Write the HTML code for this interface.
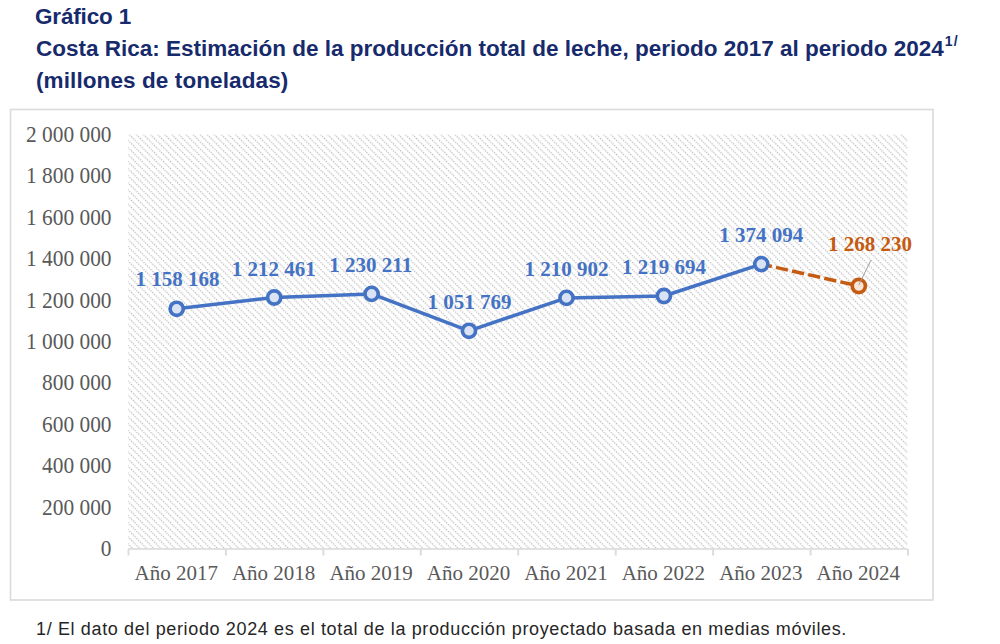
<!DOCTYPE html>
<html><head><meta charset="utf-8">
<style>
html,body{margin:0;padding:0;background:#fff;width:1000px;height:644px;overflow:hidden;}
body{position:relative;font-family:"Liberation Sans",sans-serif;}
.t{position:absolute;color:#172B6C;font-weight:bold;font-size:22.5px;white-space:nowrap;line-height:1;}
#t1{top:6px;left:35px;letter-spacing:-0.17px;}
#t2{top:38px;left:36px;letter-spacing:0.0px;}
#t3{top:70px;left:36px;letter-spacing:0.1px;}
sup{font-size:14px;position:relative;top:-4px;vertical-align:top;letter-spacing:1.2px;margin-left:1px;}
#foot{position:absolute;left:36px;top:620px;font-size:18px;letter-spacing:0.64px;color:#262626;white-space:nowrap;line-height:1;}
svg{position:absolute;left:0;top:0;}
.yl{font-family:"Liberation Serif",serif;font-size:23px;fill:#595959;}
.xl{font-family:"Liberation Serif",serif;font-size:22px;fill:#595959;}
.dl{font-family:"Liberation Serif",serif;font-size:21px;font-weight:bold;fill:#4472C4;}
</style></head>
<body>
<div class="t" id="t1">Gráfico 1</div>
<div class="t" id="t2">Costa Rica: Estimación de la producción total de leche, periodo 2017 al periodo 2024<sup>1/</sup></div>
<div class="t" id="t3">(millones de toneladas)</div>
<svg width="1000" height="644" viewBox="0 0 1000 644">
<defs>
<pattern id="hatch" patternUnits="userSpaceOnUse" x="1.88" y="0" width="7.08" height="7.08">
<path d="M0,0 L7.08,7.08 M-7.08,0 L0,7.08 M7.08,0 L14.16,7.08" stroke="#c0c0c0" stroke-width="1.3" stroke-dasharray="1.4 1.103"/>
</pattern>
</defs>
<rect x="10.5" y="109.5" width="922.5" height="490.5" fill="#fff" stroke="#dadada" stroke-width="1.6"/>
<rect x="128" y="134.4" width="779.5" height="414.3" fill="url(#hatch)"/>
<line x1="128" y1="549" x2="907.5" y2="549" stroke="#d9d9d9" stroke-width="1.5"/>
<g stroke="#dcdcdc" stroke-width="2">
<line x1="128.5" y1="549" x2="128.5" y2="555.5"/>
<line x1="225.9" y1="549" x2="225.9" y2="555.5"/>
<line x1="323.4" y1="549" x2="323.4" y2="555.5"/>
<line x1="420.8" y1="549" x2="420.8" y2="555.5"/>
<line x1="518.2" y1="549" x2="518.2" y2="555.5"/>
<line x1="615.7" y1="549" x2="615.7" y2="555.5"/>
<line x1="713.1" y1="549" x2="713.1" y2="555.5"/>
<line x1="810.6" y1="549" x2="810.6" y2="555.5"/>
<line x1="908.0" y1="549" x2="908.0" y2="555.5"/>
</g>
<g text-anchor="end">
<text class="yl" transform="translate(111.50,141.80) scale(0.9300,1)">2 000 000</text>

<text class="yl" transform="translate(111.50,183.23) scale(0.9300,1)">1 800 000</text>

<text class="yl" transform="translate(111.50,224.66) scale(0.9300,1)">1 600 000</text>

<text class="yl" transform="translate(111.50,266.09) scale(0.9300,1)">1 400 000</text>

<text class="yl" transform="translate(111.50,307.52) scale(0.9300,1)">1 200 000</text>

<text class="yl" transform="translate(111.50,348.95) scale(0.9300,1)">1 000 000</text>

<text class="yl" transform="translate(111.50,390.38) scale(0.9300,1)">800 000</text>

<text class="yl" transform="translate(111.50,431.81) scale(0.9300,1)">600 000</text>

<text class="yl" transform="translate(111.50,473.24) scale(0.9300,1)">400 000</text>

<text class="yl" transform="translate(111.50,514.67) scale(0.9300,1)">200 000</text>

<text class="yl" transform="translate(111.50,556.10) scale(0.9300,1)">0</text>

</g><g text-anchor="middle">
<text class="xl" transform="translate(176.22,580.00) scale(0.9550,1)">Año 2017</text>

<text class="xl" transform="translate(273.66,580.00) scale(0.9550,1)">Año 2018</text>

<text class="xl" transform="translate(371.09,580.00) scale(0.9550,1)">Año 2019</text>

<text class="xl" transform="translate(468.53,580.00) scale(0.9550,1)">Año 2020</text>

<text class="xl" transform="translate(565.97,580.00) scale(0.9550,1)">Año 2021</text>

<text class="xl" transform="translate(663.41,580.00) scale(0.9550,1)">Año 2022</text>

<text class="xl" transform="translate(760.84,580.00) scale(0.9550,1)">Año 2023</text>

<text class="xl" transform="translate(858.28,580.00) scale(0.9550,1)">Año 2024</text>

</g>
<polyline points="176.7,308.8 274.2,297.5 371.6,293.9 469.0,330.8 566.5,297.9 663.9,296.0 761.3,264.1" fill="none" stroke="#4472C4" stroke-width="3.5" stroke-linejoin="round"/>
<line x1="761.3" y1="264.1" x2="858.8" y2="286.0" stroke="#C55A11" stroke-width="3.5" stroke-dasharray="12.3,4.2" stroke-dashoffset="1.5"/>
<g fill="#DAE3F3" stroke="#4472C4" stroke-width="3.6">
<circle cx="176.7" cy="308.8" r="6.6"/>
<circle cx="274.2" cy="297.5" r="6.6"/>
<circle cx="371.6" cy="293.9" r="6.6"/>
<circle cx="469.0" cy="330.8" r="6.6"/>
<circle cx="566.5" cy="297.9" r="6.6"/>
<circle cx="663.9" cy="296.0" r="6.6"/>
<circle cx="761.3" cy="264.1" r="6.6"/>
</g>
<circle cx="858.8" cy="286.0" r="6.6" fill="#FBE5D6" stroke="#C55A11" stroke-width="3.6"/>
<line x1="871" y1="260" x2="858.8" y2="285.0" stroke="#a0a0a0" stroke-width="1"/>
<g text-anchor="middle">
<text class="dl" transform="translate(177.50,286.00) scale(1.0000,1)">1 158 168</text>

<text class="dl" transform="translate(273.75,275.50) scale(1.0000,1)">1 212 461</text>

<text class="dl" transform="translate(370.75,271.50) scale(1.0000,1)">1 230 211</text>

<text class="dl" transform="translate(469.50,309.00) scale(1.0000,1)">1 051 769</text>

<text class="dl" transform="translate(566.50,275.50) scale(1.0000,1)">1 210 902</text>

<text class="dl" transform="translate(664.00,273.50) scale(1.0000,1)">1 219 694</text>

<text class="dl" transform="translate(761.25,241.50) scale(1.0000,1)">1 374 094</text>

<text class="dl" transform="translate(870.00,250.50) scale(1.0000,1)" style="fill:#C55A11">1 268 230</text>

</g></svg>
<div id="foot">1/ El dato del periodo 2024 es el total de la producción proyectado basada en medias móviles.</div>
</body></html>
